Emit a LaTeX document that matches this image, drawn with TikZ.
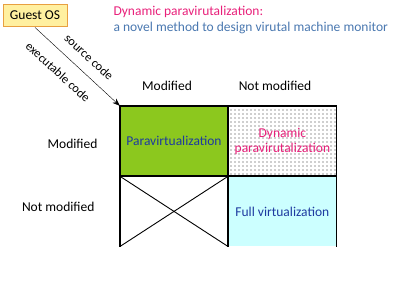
\documentclass[tikz,border=0pt]{standalone}
\usepackage{fontspec}
\setmainfont{Carlito}
\usepackage{xcolor}
\usepackage{tikz}
\usetikzlibrary{arrows.meta,patterns.meta,positioning}
\definecolor{guestfill}{HTML}{FFF0A0}
\definecolor{guestdraw}{HTML}{E8A040}
\definecolor{titlepink}{HTML}{E8207A}
\definecolor{titleblue}{HTML}{4A78B0}
\definecolor{paragreen}{HTML}{8CC81E}
\definecolor{celltext}{HTML}{1E3AA0}
\definecolor{fullcyan}{HTML}{CCFFFF}
\definecolor{dotgray}{HTML}{303030}
\tikzset{
  cell/.style={rectangle,minimum width=108pt,minimum height=70pt,inner sep=0pt,
    align=center,font=\fontsize{13.5}{15}\selectfont,text=celltext},
  header/.style={font=\fontsize{13.5}{15}\selectfont,text=black},
  gridline/.style={line width=1.6pt,draw=black},
  cross/.style={line width=0.9pt,draw=black},
  arrow/.style={-{Stealth[length=2.6mm]},thin,draw=black},
  codelabel/.style={font=\fontsize{12.5}{14}\selectfont,rotate=-42.5,inner sep=0pt}
}
\begin{document}
\begin{tikzpicture}[x=1pt,y=-1pt]
\useasboundingbox (0,0) rectangle (400,286);

\node[draw=guestdraw,fill=guestfill,line width=0.9pt,minimum width=64pt,minimum height=22pt,
  inner sep=1pt,font=\fontsize{13.5}{15}\selectfont] (guest) at (35,15) {Guest OS};

\node[anchor=west,font=\fontsize{13.5}{15}\selectfont,text=titlepink] (title) at (110,12) {Dynamic paravirutalization:};
\node[anchor=west,font=\fontsize{13.5}{15}\selectfont,text=titleblue] (subtitle) at (110,28) {a novel method to design virutal machine monitor};

% cells of the table
\node[cell,fill=paragreen] (para) at (174,141) {Paravirtualization};
\node[cell,pattern={Dots[distance=4pt,radius=0.55pt]},pattern color=dotgray,text=titlepink,right=0pt of para] (dyn) {Dynamic\\paravirutalization};
\node[cell,below=0pt of para] (none) {};
\node[cell,fill=fullcyan,right=0pt of none] (full) {Full virtualization};

\node[header] (colmod) at (167,86) {Modified};
\node[header] (colnot) at (275,86) {Not modified};
\node[header,anchor=east] (rowmod) at (101,144) {Modified};
\node[header,anchor=east] (rownot) at (98,207) {Not modified};

\draw[gridline] (none.south west) -- (para.north west) -- (dyn.north east) -- (full.south east);
\draw[gridline] (para.south west) -- (dyn.south east);
\draw[gridline] (para.north east) -- (none.south east);
\draw[cross] (none.north west) -- (none.south east);
\draw[cross] (none.south west) -- (none.north east);

\draw[arrow] (guest.south) ++(0,1) coordinate (start) -- (para.north west);
\node[codelabel] (src) at (89,57) {source code};
\node[codelabel] (exe) at (58,72) {executable code};
\end{tikzpicture}
\end{document}
